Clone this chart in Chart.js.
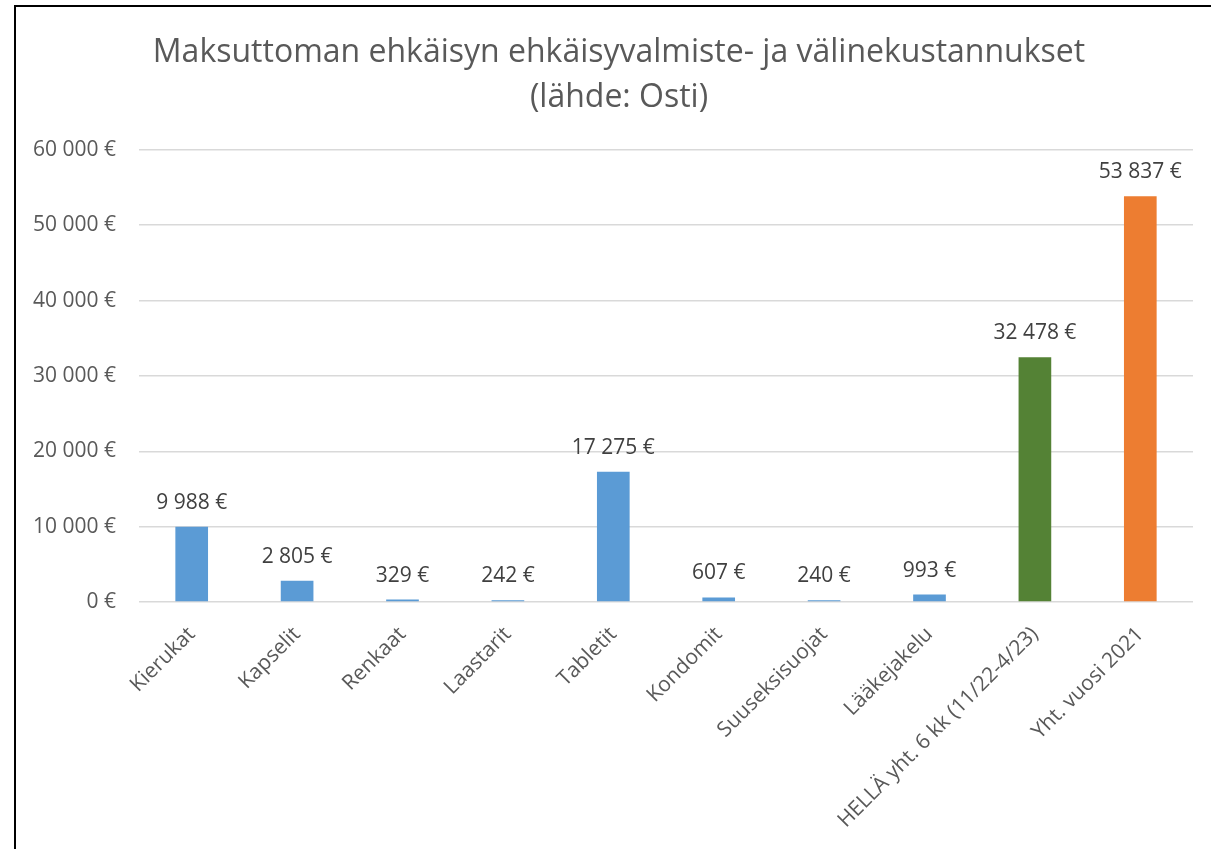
<!DOCTYPE html>
<html>
<head>
<meta charset="utf-8">
<script src="https://cdn.jsdelivr.net/npm/chart.js@4/dist/chart.umd.min.js"></script>
<style>
  html, body { margin: 0; padding: 0; background: #fff; overflow: hidden; }
  #wrap { position: relative; width: 1211px; height: 849px; }
  #frame { position: absolute; left: 14px; top: 5px; width: 2000px; height: 2000px;
           border-left: 2px solid #000; border-top: 2px solid #000; box-sizing: border-box; }
  canvas { position: absolute; left: 0; top: 0; }
</style>
</head>
<body>
<div id="wrap">
  <div id="frame"></div>
  <canvas id="c" width="1211" height="849"></canvas>
</div>
<script>
const titleLines = ["Maksuttoman ehkäisyn ehkäisyvalmiste- ja välinekustannukset", "(lähde: Osti)"];
const categories = ["Kierukat", "Kapselit", "Renkaat", "Laastarit", "Tabletit", "Kondomit",
  "Suuseksisuojat", "Lääkejakelu", "HELLÄ yht. 6 kk (11/22-4/23)", "Yht. vuosi 2021"];
const costs = [9988, 2805, 329, 242, 17275, 607, 240, 993, 32478, 53837];
const barColors = ["#5B9BD5", "#5B9BD5", "#5B9BD5", "#5B9BD5", "#5B9BD5", "#5B9BD5",
  "#5B9BD5", "#5B9BD5", "#548235", "#ED7D31"];
const yTicks = [0, 10000, 20000, 30000, 40000, 50000, 60000];

const FONT = "'Open Sans', sans-serif";
function fmt(v) { return String(v).replace(/\B(?=(\d{3})+(?!\d))/g, ' ') + ' €'; }

const valueLabels = {
  id: 'valueLabels',
  afterDatasetsDraw(chart) {
    const ctx = chart.ctx;
    const meta = chart.getDatasetMeta(0);
    ctx.save();
    ctx.font = "21px " + FONT;
    ctx.fillStyle = "#404040";
    ctx.textAlign = "center";
    ctx.textBaseline = "alphabetic";
    meta.data.forEach((bar, i) => {
      ctx.fillText(fmt(costs[i]), bar.x, bar.y - 18);
    });
    ctx.restore();
  }
};

new Chart(document.getElementById('c'), {
  type: 'bar',
  data: {
    labels: categories,
    datasets: [{ data: costs, backgroundColor: barColors, borderWidth: 0,
                 barPercentage: 0.31, categoryPercentage: 1.0 }]
  },
  options: {
    responsive: false,
    animation: false,
    layout: { padding: { left: 45, right: 18, top: 30, bottom: 0 } },
    plugins: {
      legend: { display: false },
      tooltip: { enabled: false },
      title: {
        display: true,
        text: titleLines,
        color: "#595959",
        font: { family: FONT, size: 32, weight: 'normal', lineHeight: 1.42 },
        padding: { top: 0, bottom: 29 }
      }
    },
    scales: {
      y: {
        min: 0, max: 60000,
        afterBuildTicks(scale) { scale.ticks = yTicks.map(v => ({ value: v })); },
        afterFit(scale) {
          scale.width = 94;
          scale._computeLabelArea = function () { return undefined; };
        },
        grid: { color: "#d9d9d9", lineWidth: 1.5, drawTicks: false },
        border: { display: false },
        ticks: { color: "#595959", padding: 23, font: { family: FONT, size: 21 },
                 callback: v => fmt(v) }
      },
      x: {
        afterFit(scale) { scale.height = 247; },
        grid: { display: false },
        border: { display: false },
        ticks: { color: "#595959", padding: 12, minRotation: 45, maxRotation: 45,
                 autoSkip: false, font: { family: FONT, size: 21 } }
      }
    }
  },
  plugins: [valueLabels]
});
</script>
</body>
</html>
